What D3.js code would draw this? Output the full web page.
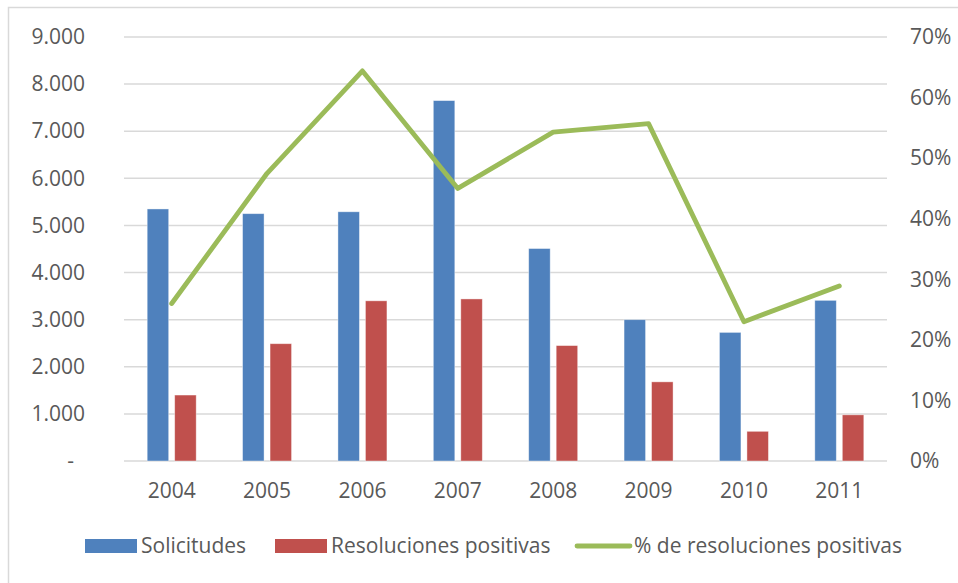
<!DOCTYPE html>
<html>
<head>
<meta charset="utf-8">
<script src="https://cdn.jsdelivr.net/npm/d3@7"></script>
<style>
  html, body { margin: 0; padding: 0; background: #fff; }
  svg { display: block; }
  text { font-family: "Open Sans", "Noto Sans", sans-serif; fill: #595959; }
</style>
</head>
<body>
<svg id="chart" width="958" height="583"></svg>
<script>
const years = ["2004", "2005", "2006", "2007", "2008", "2009", "2010", "2011"];
const solicitudes = [5350, 5250, 5290, 7650, 4510, 3000, 2730, 3410];
const resoluciones = [1400, 2490, 3400, 3440, 2450, 1680, 630, 980];
const porcentaje = [26.0, 47.5, 64.4, 45.0, 54.3, 55.7, 23.0, 28.9];
const leftTicks = [0, 1000, 2000, 3000, 4000, 5000, 6000, 7000, 8000, 9000];
const rightTicks = [0, 10, 20, 30, 40, 50, 60, 70];
const seriesNames = ["Solicitudes", "Resoluciones positivas", "% de resoluciones positivas"];
const colors = ["#4F81BD", "#C0504D", "#9BBB59"];

const svg = d3.select("#chart");
const W = 958, H = 583;
const plot = { left: 124, right: 887, top: 37, bottom: 461 };

// frame
svg.append("rect").attr("x", 8.5).attr("y", 7.5).attr("width", 1000).attr("height", 1000)
  .attr("fill", "none").attr("stroke", "#d9d9d9").attr("stroke-width", 1.5);

const x = d3.scaleBand().domain(years).range([plot.left, plot.right]).paddingInner(0).paddingOuter(0);
const xSub = d3.scaleBand().domain(["s", "r"]).range([-24.5, 24.5]).paddingInner(0.218);
const yL = d3.scaleLinear().domain([0, 9000]).range([plot.bottom, plot.top]);
const yR = d3.scaleLinear().domain([0, 70]).range([plot.bottom, plot.top]);

// gridlines
svg.append("g").selectAll("line").data(leftTicks).join("line")
  .attr("x1", plot.left).attr("x2", plot.right)
  .attr("y1", d => yL(d)).attr("y2", d => yL(d))
  .attr("stroke", "#d9d9d9").attr("stroke-width", 1.5);

// left axis
const fmtL = d => d === 0 ? "-" : d3.format(",")(d).replace(/,/g, ".");
const gL = svg.append("g").attr("transform", `translate(${85},0)`)
  .call(d3.axisLeft(yL).tickValues(leftTicks).tickFormat(fmtL).tickSize(0).tickPadding(0));
gL.select(".domain").remove();
gL.selectAll("text").attr("font-size", 21).attr("fill", "#595959")
  .attr("font-family", "Open Sans, Noto Sans, sans-serif")
  .attr("dx", d => d === 0 ? -11 : 0);

// right axis
const gR = svg.append("g").attr("transform", `translate(${910},0)`)
  .call(d3.axisRight(yR).tickValues(rightTicks).tickFormat(d => d + "%").tickSize(0).tickPadding(0));
gR.select(".domain").remove();
gR.selectAll("text").attr("font-size", 21).attr("fill", "#595959")
  .attr("font-family", "Open Sans, Noto Sans, sans-serif");

// x axis labels
const gX = svg.append("g").attr("transform", `translate(0,${plot.bottom})`)
  .call(d3.axisBottom(x).tickSize(0).tickPadding(22));
gX.select(".domain").remove();
gX.selectAll("text").attr("font-size", 21).attr("fill", "#595959")
  .attr("font-family", "Open Sans, Noto Sans, sans-serif");

// bars
const bars = svg.append("g");
bars.selectAll("rect.s").data(years).join("rect").attr("class", "s")
  .attr("x", (d) => x(d) + x.bandwidth() / 2 + xSub("s"))
  .attr("width", xSub.bandwidth())
  .attr("y", (d, i) => yL(solicitudes[i]))
  .attr("height", (d, i) => yL(0) - yL(solicitudes[i]))
  .attr("fill", colors[0]).attr("stroke", "#ffffff").attr("stroke-opacity", 0.5).attr("stroke-width", 0.8);
bars.selectAll("rect.r").data(years).join("rect").attr("class", "r")
  .attr("x", (d) => x(d) + x.bandwidth() / 2 + xSub("r"))
  .attr("width", xSub.bandwidth())
  .attr("y", (d, i) => yL(resoluciones[i]))
  .attr("height", (d, i) => yL(0) - yL(resoluciones[i]))
  .attr("fill", colors[1]).attr("stroke", "#ffffff").attr("stroke-opacity", 0.5).attr("stroke-width", 0.8);

// line
const line = d3.line()
  .x((d, i) => x(years[i]) + x.bandwidth() / 2)
  .y(d => yR(d));
svg.append("path").datum(porcentaje)
  .attr("d", line).attr("fill", "none").attr("stroke", colors[2])
  .attr("stroke-width", 4.8).attr("stroke-linejoin", "round").attr("stroke-linecap", "round");

// legend
const lg = svg.append("g");
const ly = 546;
lg.append("rect").attr("x", 85).attr("y", ly - 7).attr("width", 52).attr("height", 14).attr("fill", colors[0]);
lg.append("text").attr("x", 141).attr("y", ly).attr("dy", "0.35em").attr("font-size", 21).text(seriesNames[0]);
lg.append("rect").attr("x", 275).attr("y", ly - 7).attr("width", 52).attr("height", 14).attr("fill", colors[1]);
lg.append("text").attr("x", 331).attr("y", ly).attr("dy", "0.35em").attr("font-size", 21).text(seriesNames[1]);
lg.append("line").attr("x1", 577).attr("x2", 630).attr("y1", ly).attr("y2", ly)
  .attr("stroke", colors[2]).attr("stroke-width", 4.8).attr("stroke-linecap", "round");
lg.append("text").attr("x", 634).attr("y", ly).attr("dy", "0.35em").attr("font-size", 21).text(seriesNames[2]);
</script>
</body>
</html>
